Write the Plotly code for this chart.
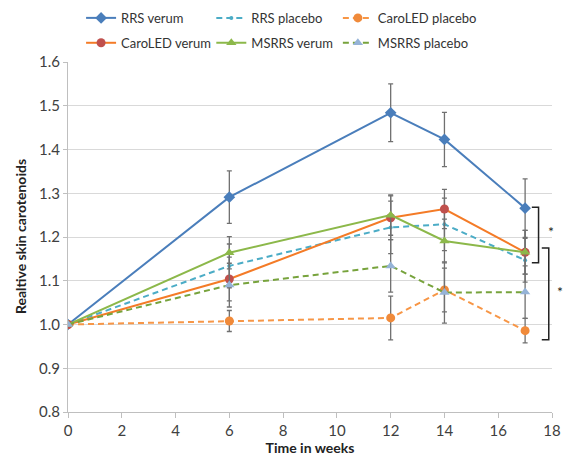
import plotly.graph_objects as go

weeks = [0, 6, 12, 14, 17]

rrs_verum = [1.0, 1.291, 1.484, 1.423, 1.266]
rrs_placebo = [1.0, 1.134, 1.222, 1.229, 1.147]
caroled_placebo = [1.0, 1.008, 1.015, 1.079, 0.986]
caroled_verum = [1.0, 1.104, 1.244, 1.264, 1.165]
msrrs_verum = [1.0, 1.164, 1.250, 1.191, 1.165]
msrrs_placebo = [1.0, 1.090, 1.134, 1.073, 1.074]

err_rrs_verum = [0, 0.060, 0.066, 0.062, 0.067]
err_rrs_placebo = [0, 0.050, 0.060, 0.060, 0.050]
err_caroled_placebo = [0, 0.024, 0.050, 0.050, 0.028]
err_caroled_verum = [0, 0.050, 0.050, 0.045, 0.050]
err_msrrs_verum = [0, 0.037, 0.046, 0.050, 0.050]
err_msrrs_placebo = [0, 0.050, 0.060, 0.070, 0.060]

x_ticks = [0, 2, 4, 6, 8, 10, 12, 14, 16, 18]
y_ticks = [0.8, 0.9, 1.0, 1.1, 1.2, 1.3, 1.4, 1.5, 1.6]

# name, values, errors, line colour, dash, symbol, size, marker colour, legend column
series = [
    ("RRS verum", rrs_verum, err_rrs_verum, "#4a7ebb", "solid", "diamond", 9, "#4a7ebb", "legend"),
    ("RRS placebo", rrs_placebo, err_rrs_placebo, "#4bacc6", "6px,4px", "circle", 4, "#4bacc6", "legend2"),
    ("CaroLED placebo", caroled_placebo, err_caroled_placebo, "#f79646", "6px,4px", "circle", 9, "#f08a3a", "legend3"),
    ("CaroLED verum", caroled_verum, err_caroled_verum, "#f47b27", "solid", "circle", 9, "#c0504d", "legend"),
    ("MSRRS verum", msrrs_verum, err_msrrs_verum, "#8cb84a", "solid", "triangle-up", 9, "#8cb84a", "legend2"),
    ("MSRRS placebo", msrrs_placebo, err_msrrs_placebo, "#77a33c", "6px,4px", "triangle-up", 9, "#95b3d7", "legend3"),
]

fig = go.Figure()
for name, ys, errs, lc, dash, sym, ms, mc, lg in series:
    fig.add_trace(go.Scatter(
        x=weeks, y=ys, name=name, mode="lines+markers",
        legend=lg, legendgroup=name,
        line=dict(color=lc, width=2, dash=dash),
        marker=dict(symbol=sym, size=ms, color=mc),
        error_y=dict(type="data", array=errs, visible=True, color="#707070", thickness=1.3, width=2.5),
    ))

FONT = "Lato, Open Sans, sans-serif"
axis_font = dict(family=FONT, size=15, color="#404040")

def legend_at(xpos):
    return dict(
        orientation="v", x=xpos, y=0.9936, xref="container", yref="container",
        xanchor="left", yanchor="top", traceorder="grouped", tracegroupgap=5,
        font=dict(family=FONT, size=13, color="#333333"), itemwidth=30,
        bgcolor="rgba(0,0,0,0)",
    )

fig.update_layout(
    width=565, height=458,
    margin=dict(l=68, r=13, t=62, b=46, autoexpand=False),
    paper_bgcolor="white", plot_bgcolor="white",
    font=dict(family=FONT, color="#404040"),
    showlegend=True,
    legend=legend_at(0.1435),
    legend2=legend_at(0.374),
    legend3=legend_at(0.598),
    xaxis=dict(
        range=[0, 18], tickvals=x_ticks, ticks="outside", ticklen=5, tickcolor="#bfbfbf",
        showline=True, linecolor="#bfbfbf", linewidth=1, showgrid=False, zeroline=False,
        tickfont=axis_font,
        title=dict(text="<b>Time in weeks</b>", font=dict(family=FONT, size=14, color="#222222"), standoff=4),
    ),
    yaxis=dict(
        range=[0.8, 1.6], tickvals=y_ticks, tickformat=".1f", ticks="outside", ticklen=4,
        tickcolor="#bfbfbf",
        showline=True, linecolor="#bfbfbf", linewidth=1, showgrid=True, gridcolor="#d9d9d9",
        gridwidth=1.2, zeroline=False, tickfont=axis_font,
    ),
)

# y-axis title as a rotated annotation (placed left of the tick labels)
fig.add_annotation(x=-0.099, y=0.5, xref="paper", yref="paper", text="<b>Realtive skin carotenoids</b>",
                   textangle=-90, showarrow=False, xanchor="center", yanchor="middle",
                   font=dict(family=FONT, size=14, color="#222222"))

# significance brackets (paper x, data y)
def bracket(x0, x1, y0, y1):
    fig.add_shape(type="path", xref="paper", yref="y",
                  path=f"M {x0},{y0} L {x1},{y0} L {x1},{y1} L {x0},{y1}",
                  line=dict(color="#222222", width=1.5))

def px(v):
    return v / 18.0

bracket(px(17.25), px(17.5), 1.268, 1.141)
bracket(px(17.62), px(17.88), 1.175, 0.965)
fig.add_annotation(x=px(17.97), y=1.212, xref="paper", yref="y", text="*", showarrow=False,
                   xanchor="center", yanchor="middle", font=dict(family=FONT, size=14, color="#222222"))
fig.add_annotation(x=px(18.3), y=1.075, xref="paper", yref="y", text="*", showarrow=False,
                   xanchor="center", yanchor="middle", font=dict(family=FONT, size=14, color="#222222"))

fig.write_html("out.html", post_script="document.body.style.margin='0';",
               config={"displayModeBar": False})
